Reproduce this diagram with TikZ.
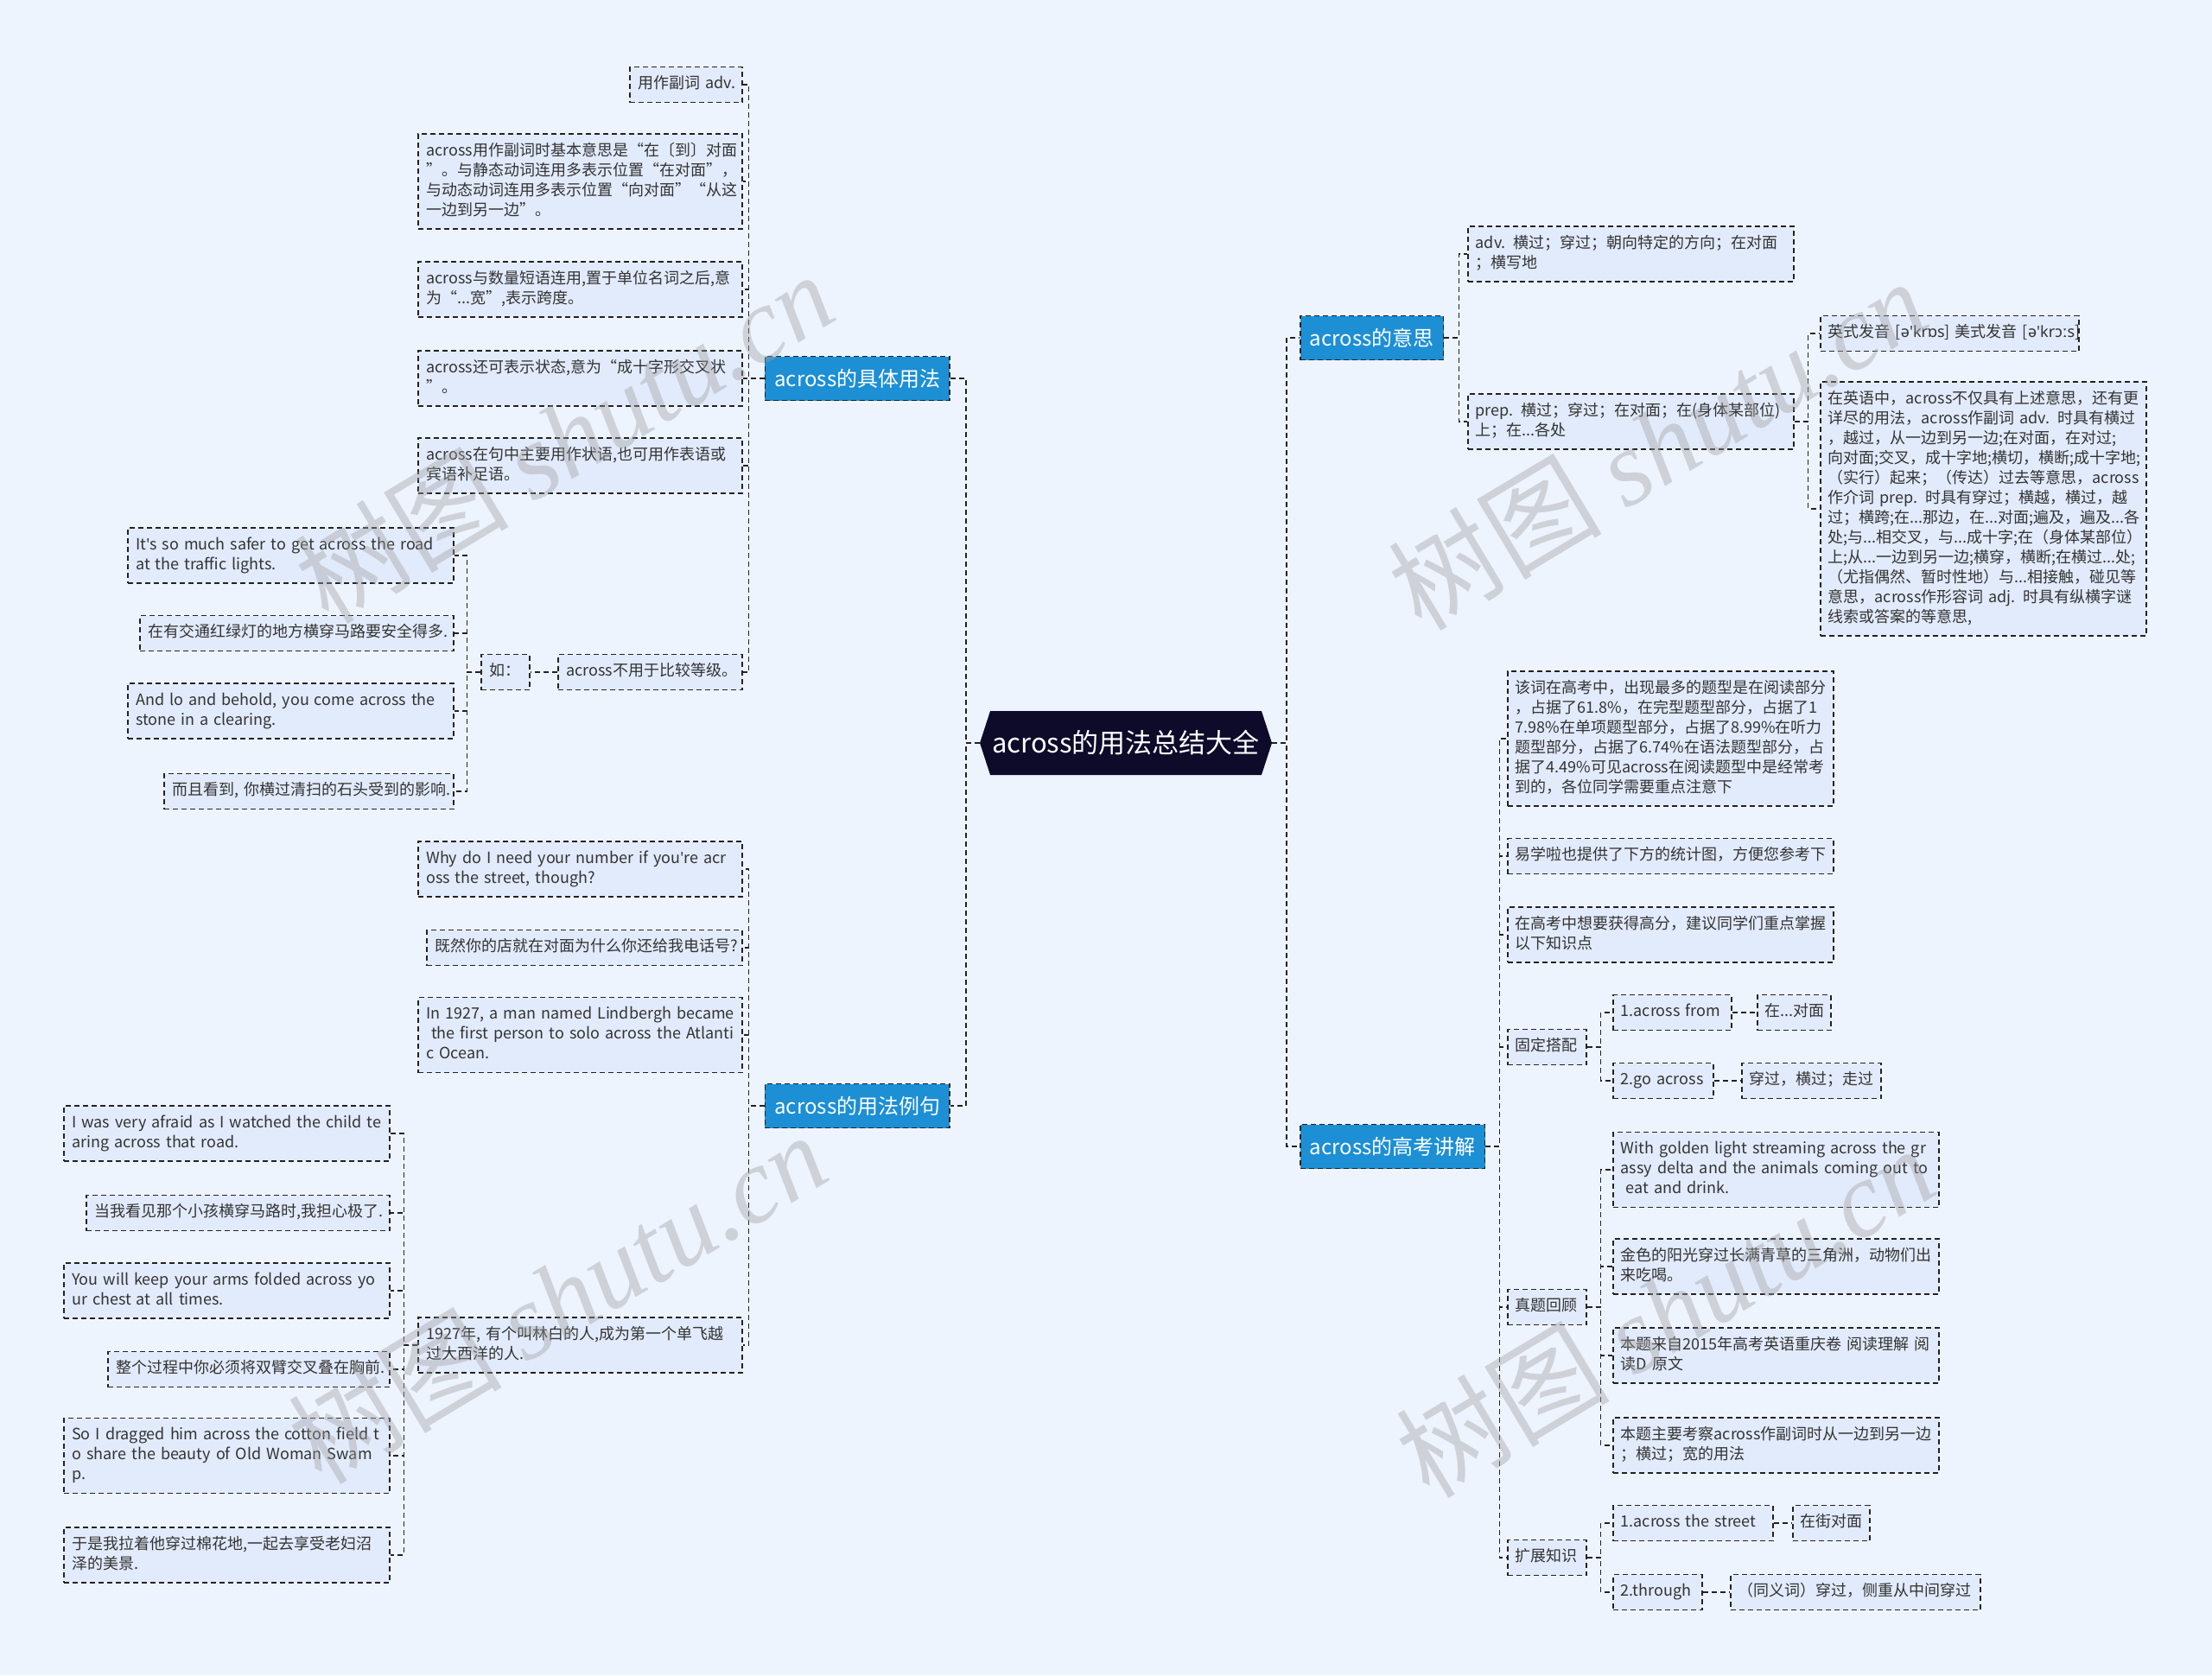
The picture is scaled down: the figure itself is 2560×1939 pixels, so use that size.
\documentclass[tikz,border=0pt]{standalone}
\usepackage{fontspec}
\setmainfont{Noto Sans CJK SC}
\newfontfamily\ipafont{Noto Sans}
\newfontfamily\wmserif{Liberation Serif}
\usetikzlibrary{shapes.symbols}
\definecolor{bgc}{HTML}{EEF4FE}
\definecolor{leafc}{HTML}{E2EBFB}
\definecolor{branchc}{HTML}{1C8FD5}
\definecolor{rootc}{HTML}{0D0A2A}
\definecolor{txtc}{HTML}{333333}
\definecolor{linec}{HTML}{222222}
\newcommand\tl[1]{\begin{tabular}{@{}l@{}}#1\end{tabular}}
\newcommand\apos{{\ipafont\textquotesingle}}
\tikzset{
  leaf/.style={draw=linec, dash pattern=on 6pt off 4pt, line width=1.6pt, fill=leafc,
    text=txtc, font=\fontsize{18}{23}\selectfont, inner xsep=9pt, inner ysep=9pt, align=left},
  branch/.style={draw=linec, dash pattern=on 6pt off 4pt, line width=1.6pt, fill=branchc,
    text=white, font=\fontsize{24}{28}\selectfont, inner xsep=11pt, minimum height=51pt},
  rootnode/.style={shape=signal, signal to=west and east, signal pointer angle=144,
    fill=rootc, text=white, font=\fontsize{31}{36}\selectfont, minimum width=338pt,
    minimum height=74pt, inner sep=0pt},
  conn/.style={draw=linec, line width=1.6pt, dash pattern=on 6pt off 4pt},
  wm/.style={text=gray!75, opacity=0.4, font=\fontsize{124}{130}\selectfont, inner sep=0pt}
}
\begin{document}
\begin{tikzpicture}[x=1pt,y=-1pt]
\useasboundingbox (0,0) rectangle (2560,1939);
\fill[bgc] (0,0) rectangle (2560,1939);

% root
\node[rootnode] (root) at (1303,860) {across的用法总结大全};

% ---------- left branch 1
\node[branch, anchor=east] (b1) at (1100,438) {across的具体用法};
\node[leaf, text width=112pt, anchor=east] (a1) at (860,98) {\tl{用作副词 adv.}};
\node[leaf, text width=357pt, anchor=east] (a2) at (860,210) {\tl{across用作副词时基本意思是“在〔到〕对面\\”。与静态动词连用多表示位置“在对面”，\\与动态动词连用多表示位置“向对面”“从这\\一边到另一边”。}};
\node[leaf, text width=357pt, anchor=east] (a3) at (860,335) {\tl{across与数量短语连用,置于单位名词之后,意\\为“...宽”,表示跨度。}};
\node[leaf, text width=357pt, anchor=east] (a4) at (860,438) {\tl{across还可表示状态,意为“成十字形交叉状\\”。}};
\node[leaf, text width=357pt, anchor=east] (a5) at (860,539) {\tl{across在句中主要用作状语,也可用作表语或\\宾语补足语。}};
\node[leaf, text width=195pt, anchor=east] (a6) at (860,778) {\tl{across不用于比较等级。}};
\node[leaf, text width=38pt, anchor=east] (ru) at (614,778) {\tl{如：}};
\node[leaf, text width=359pt, anchor=east] (r1) at (526,643) {\tl{It\apos s so much safer to get across the road\\at the traffic lights.}};
\node[leaf, text width=345pt, anchor=east] (r2) at (526,733) {\tl{在有交通红绿灯的地方横穿马路要安全得多.}};
\node[leaf, text width=359pt, anchor=east] (r3) at (526,823) {\tl{And lo and behold, you come across the\\stone in a clearing.}};
\node[leaf, text width=317pt, anchor=east] (r4) at (526,916) {\tl{而且看到, 你横过清扫的石头受到的影响.}};

% ---------- left branch 2
\node[branch, anchor=east] (b2) at (1100,1280) {across的用法例句};
\node[leaf, text width=357pt, anchor=east] (e1) at (860,1006) {\tl{Why do I need your number if you\apos re acr\\oss the street, though?}};
\node[leaf, text width=347pt, anchor=east] (e2) at (860,1097) {\tl{既然你的店就在对面为什么你还给我电话号?}};
\node[leaf, text width=357pt, anchor=east] (e3) at (860,1198) {\tl{In 1927, a man named Lindbergh became\\~the first person to solo across the Atlanti\\c Ocean.}};
\node[leaf, text width=357pt, anchor=east] (e4) at (860,1557) {\tl{1927年, 有个叫林白的人,成为第一个单飞越\\过大西洋的人.}};
\node[leaf, text width=359pt, anchor=east] (f1) at (452,1312) {\tl{I was very afraid as I watched the child te\\aring across that road.}};
\node[leaf, text width=333pt, anchor=east] (f2) at (452,1404) {\tl{当我看见那个小孩横穿马路时,我担心极了.}};
\node[leaf, text width=359pt, anchor=east] (f3) at (452,1494) {\tl{You will keep your arms folded across yo\\ur chest at all times.}};
\node[leaf, text width=308pt, anchor=east] (f4) at (452,1585) {\tl{整个过程中你必须将双臂交叉叠在胸前.}};
\node[leaf, text width=359pt, anchor=east] (f5) at (452,1685) {\tl{So I dragged him across the cotton field t\\o share the beauty of Old Woman Swam\\p.}};
\node[leaf, text width=359pt, anchor=east] (f6) at (452,1800) {\tl{于是我拉着他穿过棉花地,一起去享受老妇沼\\泽的美景.}};

% ---------- right branch 3
\node[branch, anchor=west] (b3) at (1504,391) {across的意思};
\node[leaf, text width=359pt, anchor=west] (m1) at (1698,294) {\tl{adv. 横过；穿过；朝向特定的方向；在对面\\；横写地}};
\node[leaf, text width=359pt, anchor=west] (m2) at (1698,488) {\tl{prep. 横过；穿过；在对面；在(身体某部位)\\上；在...各处}};
\node[leaf, text width=281pt, anchor=west] (m3) at (2106,386) {\tl{英式发音 [{\ipafont ə\textquotesingle krɒs}] 美式发音 [{\ipafont ə\textquotesingle krɔːs}]}};
\node[leaf, text width=359pt, anchor=west] (m4) at (2106,589) {\tl{在英语中，across不仅具有上述意思，还有更\\详尽的用法，across作副词 adv. 时具有横过\\，越过，从一边到另一边;在对面，在对过;\\向对面;交叉，成十字地;横切，横断;成十字地;\\（实行）起来；（传达）过去等意思，across\\作介词 prep. 时具有穿过；横越，横过，越\\过；横跨;在...那边，在...对面;遍及，遍及...各\\处;与...相交叉，与...成十字;在（身体某部位）\\上;从...一边到另一边;横穿，横断;在横过...处;\\（尤指偶然、暂时性地）与...相接触，碰见等\\意思，across作形容词 adj. 时具有纵横字谜\\线索或答案的等意思,}};

% ---------- right branch 4
\node[branch, anchor=west] (b4) at (1504,1327) {across的高考讲解};
\node[leaf, text width=359pt, anchor=west] (k1) at (1744,855) {\tl{该词在高考中，出现最多的题型是在阅读部分\\，占据了61.8\%，在完型题型部分，占据了1\\7.98\%在单项题型部分，占据了8.99\%在听力\\题型部分，占据了6.74\%在语法题型部分，占\\据了4.49\%可见across在阅读题型中是经常考\\到的，各位同学需要重点注意下}};
\node[leaf, text width=359pt, anchor=west] (k2) at (1744,991) {\tl{易学啦也提供了下方的统计图，方便您参考下}};
\node[leaf, text width=359pt, anchor=west] (k3) at (1744,1082) {\tl{在高考中想要获得高分，建议同学们重点掌握\\以下知识点}};
\node[leaf, text width=73pt, anchor=west] (k4) at (1744,1212) {\tl{固定搭配}};
\node[leaf, text width=119pt, anchor=west] (k4a) at (1866,1172) {\tl{1.across from}};
\node[leaf, text width=67pt, anchor=west] (k4ax) at (2033,1172) {\tl{在...对面}};
\node[leaf, text width=98pt, anchor=west] (k4b) at (1866,1251) {\tl{2.go across}};
\node[leaf, text width=143pt, anchor=west] (k4bx) at (2015,1251) {\tl{穿过，横过；走过}};
\node[leaf, text width=73pt, anchor=west] (k5) at (1744,1513) {\tl{真题回顾}};
\node[leaf, text width=359pt, anchor=west] (k5a) at (1866,1354) {\tl{With golden light streaming across the gr\\assy delta and the animals coming out to\\~eat and drink.}};
\node[leaf, text width=359pt, anchor=west] (k5b) at (1866,1466) {\tl{金色的阳光穿过长满青草的三角洲，动物们出\\来吃喝。}};
\node[leaf, text width=359pt, anchor=west] (k5c) at (1866,1569) {\tl{本题来自2015年高考英语重庆卷 阅读理解 阅\\读D 原文}};
\node[leaf, text width=359pt, anchor=west] (k5d) at (1866,1673) {\tl{本题主要考察across作副词时从一边到另一边\\；横过；宽的用法}};
\node[leaf, text width=73pt, anchor=west] (k6) at (1744,1803) {\tl{扩展知识}};
\node[leaf, text width=167pt, anchor=west] (k6a) at (1866,1763) {\tl{1.across the street}};
\node[leaf, text width=71pt, anchor=west] (k6ax) at (2074,1763) {\tl{在街对面}};
\node[leaf, text width=85pt, anchor=west] (k6b) at (1866,1843) {\tl{2.through}};
\node[leaf, text width=271pt, anchor=west] (k6bx) at (2002,1843) {\tl{（同义词）穿过，侧重从中间穿过}};

% ---------- connectors
\foreach \c in {b1,b2} \draw[conn] (root.west) -- ++(-16,0) |- (\c.east);
\foreach \c in {a1,a2,a3,a4,a5,a6} \draw[conn] (b1.west) -- ++(-18,0) |- (\c.east);
\draw[conn] (a6.west) -- (ru.east);
\foreach \c in {r1,r2,r3,r4} \draw[conn] (ru.west) -- ++(-16,0) |- (\c.east);
\foreach \c in {e1,e2,e3,e4} \draw[conn] (b2.west) -- ++(-18,0) |- (\c.east);
\foreach \c in {f1,f2,f3,f4,f5,f6} \draw[conn] (e4.west) -- ++(-16,0) |- (\c.east);

\foreach \c in {b3,b4} \draw[conn] (root.east) -- ++(17,0) |- (\c.west);
\foreach \c in {m1,m2} \draw[conn] (b3.east) -- ++(17,0) |- (\c.west);
\foreach \c in {m3,m4} \draw[conn] (m2.east) -- ++(16,0) |- (\c.west);
\foreach \c in {k1,k2,k3,k4,k5,k6} \draw[conn] (b4.east) -- ++(16,0) |- (\c.west);
\foreach \c in {k4a,k4b} \draw[conn] (k4.east) -- ++(16,0) |- (\c.west);
\draw[conn] (k4a.east) -- (k4ax.west);
\draw[conn] (k4b.east) -- (k4bx.west);
\foreach \c in {k5a,k5b,k5c,k5d} \draw[conn] (k5.east) -- ++(16,0) |- (\c.west);
\foreach \c in {k6a,k6b} \draw[conn] (k6.east) -- ++(16,0) |- (\c.west);
\draw[conn] (k6a.east) -- (k6ax.west);
\draw[conn] (k6b.east) -- (k6bx.west);

% ---------- watermarks
\node[wm, rotate=31] (w1) at (653,506) {树图 {\wmserif\itshape shutu.cn}};
\node[wm, rotate=31] (w2) at (645,1502) {树图 {\wmserif\itshape shutu.cn}};
\node[wm, rotate=31] (w3) at (1918,514) {树图 {\wmserif\itshape shutu.cn}};
\node[wm, rotate=31] (w4) at (1927,1518) {树图 {\wmserif\itshape shutu.cn}};
\end{tikzpicture}
\end{document}
